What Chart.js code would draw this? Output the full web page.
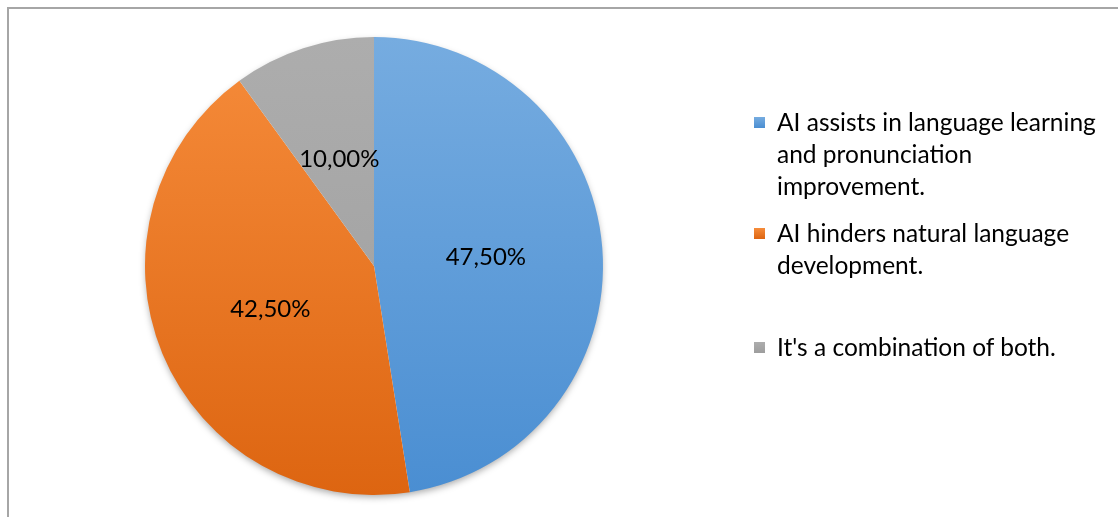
<!DOCTYPE html>
<html>
<head>
<meta charset="utf-8">
<script src="https://cdn.jsdelivr.net/npm/chart.js@4.4.1/dist/chart.umd.min.js"></script>
<style>
  html, body { margin: 0; padding: 0; background: #fff; }
  #wrap { position: relative; width: 1118px; height: 517px; overflow: hidden; }
  #frame { position: absolute; left: 7px; top: 7px; width: 1200px; height: 600px;
           border-left: 2px solid #a6a6a6; border-top: 2px solid #a6a6a6; box-sizing: border-box; }
  canvas { position: absolute; left: 0; top: 0; }
  .legend-item { position: absolute; left: 754px; width: 355px; font-family: Lato, "Open Sans", sans-serif;
                 font-size: 24.5px; line-height: 32px; color: #000; }
  .legend-item .box { position: absolute; left: 0; top: 11px; width: 11px; height: 11px; }
  .legend-item .txt { margin-left: 23px; }
</style>
</head>
<body>
<div id="wrap">
  <div id="frame"></div>
  <canvas id="pie" width="1118" height="517"></canvas>
  <div id="legend"></div>
</div>
<script>
// Survey answers and their shares (percent)
const categories = [
  "AI assists in language learning and pronunciation improvement.",
  "AI hinders natural language development.",
  "It's a combination of both."
];
const shares = [47.5, 42.5, 10.0];

// Gradient stops per slice: [top, bottom]
const sliceGradients = [
  ["#76ace0", "#4a8ed2"],
  ["#f68c3b", "#dd6511"],
  ["#adadad", "#9d9d9d"]
];
// Vertical offsets of the legend entries
const legendTops = [106, 217, 331];

function fmtPercent(v) {
  return v.toFixed(2).replace(".", ",") + "%";
}

const gradientFill = (ctx) => {
  const chart = ctx.chart;
  const area = chart.chartArea;
  if (!area) return sliceGradients[ctx.dataIndex][0];
  const g = chart.ctx.createLinearGradient(0, area.top, 0, area.bottom);
  const stops = sliceGradients[ctx.dataIndex];
  g.addColorStop(0, stops[0]);
  g.addColorStop(1, stops[1]);
  return g;
};

// Soft drop shadow under the whole pie
const pieShadow = {
  id: "pieShadow",
  beforeDatasetsDraw(chart) {
    const arc = chart.getDatasetMeta(0).data[0];
    if (!arc) return;
    const { x, y, outerRadius } = arc.getProps(["x", "y", "outerRadius"], true);
    const c = chart.ctx;
    c.save();
    c.shadowColor = "rgba(0,0,0,0.35)";
    c.shadowBlur = 7;
    c.shadowOffsetY = 3;
    c.beginPath();
    c.arc(x, y, outerRadius - 1, 0, Math.PI * 2);
    c.fillStyle = "#ffffff";
    c.fill();
    c.restore();
  }
};

// Percentage labels inside each slice
const sliceLabels = {
  id: "sliceLabels",
  afterDatasetsDraw(chart) {
    const c = chart.ctx;
    const meta = chart.getDatasetMeta(0);
    c.save();
    c.font = '24px Lato, "Open Sans", sans-serif';
    c.fillStyle = "#000";
    c.textAlign = "center";
    c.textBaseline = "middle";
    meta.data.forEach((arc, i) => {
      const p = arc.getProps(["x", "y", "startAngle", "endAngle", "outerRadius"], true);
      const mid = (p.startAngle + p.endAngle) / 2;
      const r = p.outerRadius * 0.49;
      c.fillText(fmtPercent(shares[i]), p.x + Math.cos(mid) * r, p.y + Math.sin(mid) * r);
    });
    c.restore();
  }
};

new Chart(document.getElementById("pie"), {
  type: "pie",
  data: {
    labels: categories,
    datasets: [{
      data: shares,
      backgroundColor: gradientFill,
      borderWidth: 0
    }]
  },
  options: {
    responsive: false,
    animation: false,
    layout: { padding: { left: 145, right: 515, top: 37, bottom: 22 } },
    plugins: {
      legend: { display: false },
      tooltip: { enabled: false }
    }
  },
  plugins: [pieShadow, sliceLabels]
});

// Legend beside the pie
const legend = document.getElementById("legend");
categories.forEach((name, i) => {
  const item = document.createElement("div");
  item.className = "legend-item";
  item.style.top = legendTops[i] + "px";
  const box = document.createElement("div");
  box.className = "box";
  box.style.background = "linear-gradient(" + sliceGradients[i][0] + "," + sliceGradients[i][1] + ")";
  const txt = document.createElement("div");
  txt.className = "txt";
  txt.textContent = name;
  item.appendChild(box);
  item.appendChild(txt);
  legend.appendChild(item);
});
</script>
</body>
</html>
